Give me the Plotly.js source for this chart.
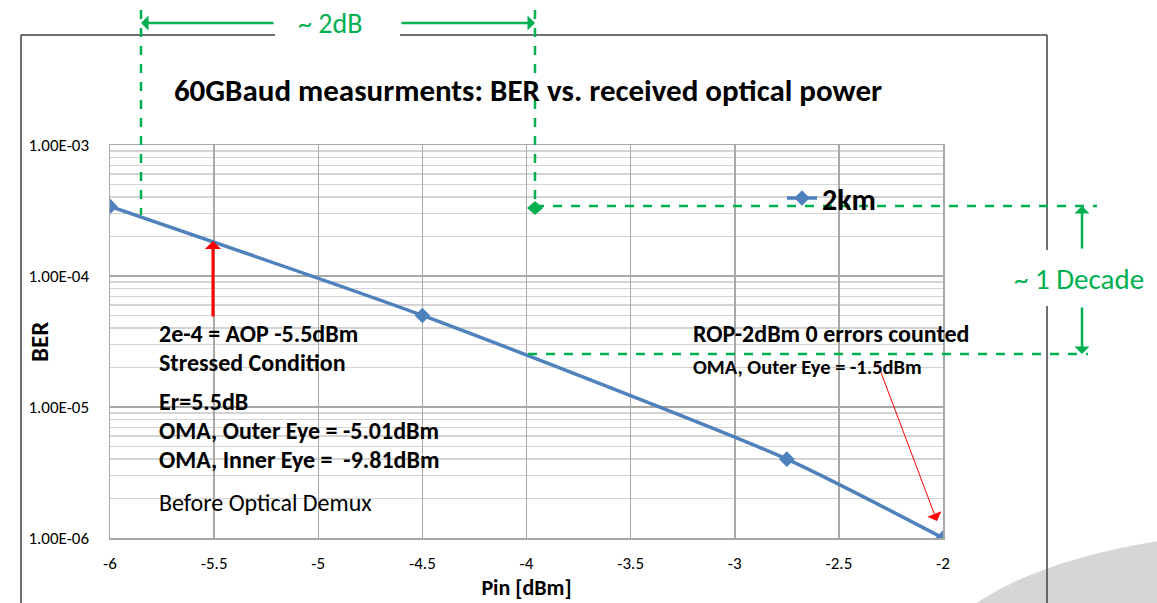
<!DOCTYPE html>
<html>
<head>
<meta charset="utf-8">
<script src="https://cdn.plot.ly/plotly-3.0.1.min.js"></script>
<style>html,body{margin:0;padding:0;background:#fff;}#chart{width:1157px;height:603px;}</style>
</head>
<body>
<div id="chart"></div>
<script>
// ---- data ----
const pinDbm = [-6, -4.5, -2.75, -2];
const berValues = [3.4e-4, 5.0e-5, 4.0e-6, 1.0e-6];
const seriesName = '2km';
const xTickVals = [-6, -5.5, -5, -4.5, -4, -3.5, -3, -2.5, -2];
const xTickText = ['-6', '-5.5', '-5', '-4.5', '-4', '-3.5', '-3', '-2.5', '-2'];
const yTickVals = [1e-6, 1e-5, 1e-4, 1e-3];
const yTickText = ['1.00E-06', '1.00E-05', '1.00E-04', '1.00E-03'];
const yMinorVals = [];
[1e-6, 1e-5, 1e-4].forEach(d => { for (let k = 2; k <= 9; k++) yMinorVals.push(k * d); });

// ---- layout helpers (pixel -> paper) ----
const W = 1157, H = 603, L = 110, T = 145, PW = 833, PH = 393;
const X = px => (px - L) / PW;
const Y = py => (T + PH - py) / PH;
const FONT = 'Carlito, Lato, "Open Sans", sans-serif';
const GREEN = '#00b050';
const RED = '#ff0000';

const trace = {
  x: pinDbm, y: berValues, name: seriesName, type: 'scatter', mode: 'lines+markers',
  line: {color: '#4f81bd', width: 3.5, shape: 'spline', smoothing: 0.6},
  marker: {symbol: 'diamond', size: 12, color: '#4f81bd'}
};

function seg(x0, y0, x1, y1, color, width, dash) {
  return {type: 'line', xref: 'paper', yref: 'paper', x0: X(x0), y0: Y(y0), x1: X(x1), y1: Y(y1),
    line: {color: color, width: width, dash: dash || 'solid'}, layer: 'above'};
}
const shapes = [
  // watermark arc
  {type: 'path', xref: 'paper', yref: 'paper', layer: 'below', fillcolor: '#d6d6d6', line: {width: 0},
   path: `M ${X(975)},${Y(604)} Q ${X(1040)},${Y(560)} ${X(1158)},${Y(541)} L ${X(1158)},${Y(604)} Z`},
  // outer frame
  seg(21, 35, 275, 35, '#404040', 1.5),
  seg(400, 35, 1047, 35, '#404040', 1.5),
  seg(21, 35, 21, 604, '#404040', 1.5),
  seg(1047, 35, 1047, 250, '#404040', 1.5),
  seg(1047, 306, 1047, 604, '#404040', 1.5),
  // green dashed guides
  seg(141, 10, 141, 215, GREEN, 2.5, 'dash'),
  seg(535, 10, 535, 207, GREEN, 2.5, 'dash'),
  seg(535, 206, 1097, 206, GREEN, 2.5, 'dash'),
  seg(528, 354, 1088, 354, GREEN, 2.5, 'dash'),
  // green diamond
  {type: 'path', xref: 'paper', yref: 'paper', layer: 'above', fillcolor: GREEN, line: {width: 0},
   path: `M ${X(527)},${Y(208)} L ${X(535)},${Y(201)} L ${X(543)},${Y(208)} L ${X(535)},${Y(215)} Z`}
];

function arrow(hx, hy, tx, ty, color, width, size) {
  return {xref: 'paper', yref: 'paper', x: X(hx), y: Y(hy), ax: tx - hx, ay: ty - hy, axref: 'pixel', ayref: 'pixel',
    text: '', showarrow: true, arrowhead: 1, arrowsize: size, arrowwidth: width, arrowcolor: color, standoff: 0};
}
function label(px, py, text, size, bold, color, anchor, angle) {
  return {xref: 'paper', yref: 'paper', x: X(px), y: Y(py), text: text, showarrow: false,
    xanchor: anchor || 'left', yanchor: 'middle', textangle: angle || 0,
    font: {family: FONT, size: size, color: color || '#000', weight: bold ? 700 : 400}};
}
const annotations = [
  arrow(141, 23, 275, 23, GREEN, 2.5, 1),
  arrow(535, 23, 400, 23, GREEN, 2.5, 1),
  arrow(1082, 206, 1082, 250, GREEN, 2.5, 1),
  arrow(1082, 354, 1082, 306, GREEN, 2.5, 1),
  arrow(213, 241, 213, 318, RED, 3, 0.9),
  arrow(937, 521, 877, 362, RED, 1, 2.5),
  label(330, 24, '~ 2dB', 28, false, GREEN, 'center'),
  label(1079, 279, '~ 1 Decade', 29, false, GREEN, 'center'),
  label(39, 342, 'BER', 25, true, '#000', 'center', -90),
  label(157, 333, '2e-4 = AOP -5.5dBm', 24, true),
  label(157, 362, 'Stressed Condition', 24, true),
  label(157, 401, 'Er=5.5dB', 24, true),
  label(157, 430, 'OMA, Outer Eye = -5.01dBm', 24, true),
  label(157, 459, 'OMA, Inner Eye =  -9.81dBm', 24, true),
  label(157, 502, 'Before Optical Demux', 24, false),
  label(691, 333, 'ROP-2dBm 0 errors counted', 24, true),
  label(691, 367, 'OMA, Outer Eye = -1.5dBm', 20.5, true)
];

const layout = {
  width: W, height: H,
  margin: {l: L, r: W - L - PW, t: T, b: H - T - PH, pad: 0},
  paper_bgcolor: '#fff', plot_bgcolor: '#fff',
  font: {family: FONT, color: '#000'},
  title: {text: '60GBaud measurments: BER vs. received optical power', xref: 'container', yref: 'container',
    x: 528 / W, y: 1 - 90 / H, xanchor: 'center', yanchor: 'middle',
    font: {family: FONT, size: 31, weight: 700, color: '#000'}},
  xaxis: {range: [-6, -2], tickmode: 'array', tickvals: xTickVals, ticktext: xTickText,
    showgrid: true, gridcolor: '#a8a8a8', gridwidth: 1.5, zeroline: false,
    showline: true, mirror: true, linecolor: '#a8a8a8', linewidth: 1.5, ticks: '',
    ticklabelstandoff: 9, tickfont: {family: FONT, size: 17, color: '#000'},
    title: {text: 'Pin [dBm]', standoff: 4, font: {family: FONT, size: 22, weight: 700, color: '#000'}}},
  yaxis: {type: 'log', range: [-6, -3], tickmode: 'array', tickvals: yTickVals, ticktext: yTickText,
    showgrid: true, gridcolor: '#a8a8a8', gridwidth: 1.5, zeroline: false,
    showline: true, mirror: true, linecolor: '#a8a8a8', linewidth: 1.5, ticks: '',
    minor: {tickmode: 'array', tickvals: yMinorVals, showgrid: true, gridcolor: '#d4d4d4', gridwidth: 1.5, ticks: ''},
    ticklabelstandoff: 16, tickfont: {family: FONT, size: 17, color: '#000'}},
  showlegend: true,
  legend: {x: X(782), y: Y(198), xanchor: 'left', yanchor: 'middle', bgcolor: 'rgba(0,0,0,0)', borderwidth: 0,
    font: {family: FONT, size: 30, weight: 700, color: '#000'}},
  shapes: shapes,
  annotations: annotations
};

Plotly.newPlot('chart', [trace], layout, {displayModeBar: false, staticPlot: true});
</script>
</body>
</html>
